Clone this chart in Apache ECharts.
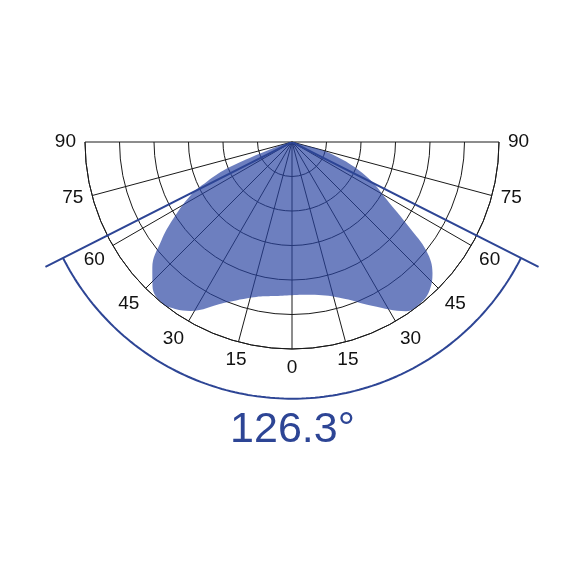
<!DOCTYPE html>
<html>
<head>
<meta charset="utf-8">
<script src="https://cdn.jsdelivr.net/npm/echarts@6/dist/echarts.min.js"></script>
<style>
  html, body { margin: 0; padding: 0; background: #fff; }
  #chart { width: 585px; height: 585px; }
</style>
</head>
<body>
<div id="chart"></div>
<script>
// angle from nadir in degrees (positive = left half), relative intensity (100 = outer ring)
const curveAngles = [-90, -76, -73, -65, -58, -54, -51, -47, -43, -39, -34, -26, -17, -7, 0, 7, 13, 23, 31, 35, 39, 44, 48, 53, 57, 62, 65, 68, 72, 76, 90];
const curveValues = [0, 3, 20, 40, 55.5, 70, 83.6, 92.8, 97.6, 99.5, 98.6, 88, 78.7, 74.4, 74, 75, 76.8, 84.5, 95.2, 98.5, 100, 97, 90.8, 79, 68.6, 56, 45.4, 32.4, 10, 3, 0];

const beamAngle = 126.3;
const beamLabel = "126.3°";

const blue = "#2d4595";

const chart = echarts.init(document.getElementById("chart"), null, { renderer: "canvas" });

const curveData = curveAngles.map((a, i) => [curveValues[i], a]);

// outer overlay polar: same centre, 1.4x radius, used for the beam lines and arc
const half = beamAngle / 2;
const arcR = 124;
const lineR = 133.5;
const arcData = [];
for (let a = -half; a <= half + 0.001; a += 1) arcData.push([arcR, a]);
arcData[arcData.length - 1] = [arcR, half];

const option = {
  animation: false,
  backgroundColor: "#fff",
  title: {
    text: beamLabel,
    left: "center",
    top: 404,
    textStyle: { color: blue, fontSize: 43, fontWeight: "normal", fontFamily: "Liberation Sans" }
  },
  polar: [
    { center: [292, 142], radius: 207 },
    { center: [292, 142], radius: 207 * 1.4 }
  ],
  angleAxis: [
    {
      polarIndex: 0,
      type: "value",
      min: -90,
      max: 90,
      interval: 15,
      startAngle: 0,
      endAngle: -180,
      clockwise: true,
      axisLine: { show: true, lineStyle: { color: "#1a1a1a", width: 1 } },
      axisTick: { show: false },
      axisLabel: {
        margin: 9,
        color: "#111",
        fontSize: 19,
        fontFamily: "Liberation Sans",
        formatter: (v) => String(Math.abs(v))
      },
      splitLine: { show: true, lineStyle: { color: "#1a1a1a", width: 1 } }
    },
    {
      polarIndex: 1,
      type: "value",
      min: -90,
      max: 90,
      startAngle: 0,
      endAngle: -180,
      clockwise: true,
      show: false
    }
  ],
  radiusAxis: [
    {
      polarIndex: 0,
      type: "value",
      min: 0,
      max: 100,
      interval: 100 / 6,
      axisLine: { show: false },
      axisTick: { show: false },
      axisLabel: { show: false },
      splitLine: { show: true, lineStyle: { color: "#1a1a1a", width: 1 } }
    },
    {
      polarIndex: 1,
      type: "value",
      min: 0,
      max: 140,
      show: false
    }
  ],
  series: [
    {
      type: "line",
      coordinateSystem: "polar",
      polarIndex: 0,
      data: curveData,
      smooth: 0.4,
      symbol: "none",
      lineStyle: { width: 0 },
      areaStyle: { color: "rgba(40,66,160,0.68)", opacity: 1 },
      z: 3
    },
    {
      type: "line",
      coordinateSystem: "polar",
      polarIndex: 1,
      data: [[lineR, half], [0, 0], [lineR, -half]],
      symbol: "none",
      lineStyle: { color: blue, width: 2 },
      z: 4
    },
    {
      type: "line",
      coordinateSystem: "polar",
      polarIndex: 1,
      data: arcData,
      symbol: "none",
      lineStyle: { color: blue, width: 2 },
      z: 4
    }
  ]
};

chart.setOption(option);
</script>
</body>
</html>
